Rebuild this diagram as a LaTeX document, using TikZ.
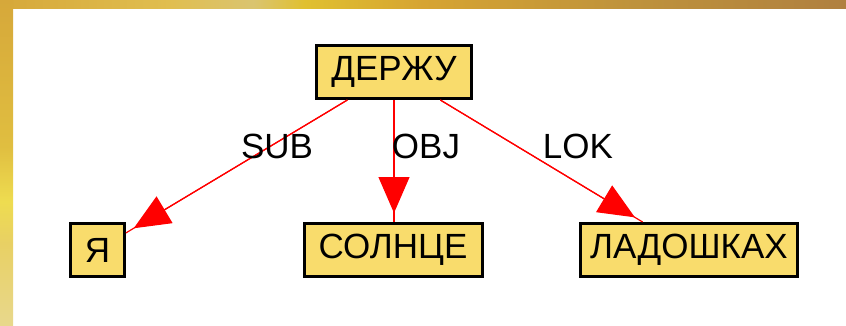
\documentclass[tikz,border=0pt]{standalone}
\usepackage{fontspec}
\setmainfont{Liberation Sans}
\usetikzlibrary{arrows.meta}
\definecolor{boxfill}{RGB}{249,220,108}
\definecolor{edgered}{RGB}{255,0,0}
\pgfdeclarehorizontalshading{topband}{100bp}{%
  color(0bp)=(rgb,255:red,214;green,168;blue,58);
  color(25bp)=(rgb,255:red,214;green,168;blue,58);
  color(35bp)=(rgb,255:red,224;green,190;blue,80);
  color(40bp)=(rgb,255:red,218;green,196;blue,112);
  color(43bp)=(rgb,255:red,224;green,192;blue,48);
  color(50bp)=(rgb,255:red,214;green,164;blue,50);
  color(62.5bp)=(rgb,255:red,190;green,146;blue,60);
  color(75bp)=(rgb,255:red,176;green,128;blue,64);
  color(100bp)=(rgb,255:red,176;green,128;blue,64)}
\pgfdeclareverticalshading{leftband}{100bp}{%
  color(0bp)=(rgb,255:red,232;green,216;blue,140);
  color(25bp)=(rgb,255:red,232;green,216;blue,140);
  color(37.5bp)=(rgb,255:red,232;green,208;blue,100);
  color(44bp)=(rgb,255:red,238;green,220;blue,80);
  color(52.5bp)=(rgb,255:red,224;green,190;blue,64);
  color(75bp)=(rgb,255:red,214;green,168;blue,58);
  color(100bp)=(rgb,255:red,214;green,168;blue,58)}
\tikzset{
  word/.style={draw=black, line width=3pt, fill=boxfill, minimum height=53pt,
    inner sep=0pt, font=\fontsize{35}{42}\selectfont},
  rel/.style={font=\fontsize{35}{42}\selectfont, inner sep=0pt},
  edge/.style={draw=edgered, line width=1.2pt},
  edgetip/.style={draw=edgered, fill=edgered, line width=1.2pt, shorten >=9pt,
    -{Triangle[length=36pt,width=31pt]}}
}
\begin{document}
\begin{tikzpicture}[x=1pt,y=-1pt]
\useasboundingbox (0,0) rectangle (846,325);
\fill[white] (0,0) rectangle (846,325);
\shade[shading=topband] (0,0) rectangle (846,8);
\shade[shading=leftband] (0,0) rectangle (13,325);

\node[word, minimum width=155pt] (derzhu) at (394,72) {ДЕРЖУ};
\node[word, minimum width=54pt] (ya) at (97.5,250) {Я};
\node[word, minimum width=178pt] (solnce) at (393,250) {СОЛНЦЕ};
\node[word, minimum width=217pt] (ladoshkah) at (689,250) {ЛАДОШКАХ};

\draw[edge] (derzhu) -- (ya);
\draw[edge] (derzhu.south) -- (derzhu.south |- solnce.north);
\draw[edge] (derzhu) -- (ladoshkah);
\draw[edgetip] (derzhu) -- (ya);
\draw[edgetip] (derzhu.south) -- (derzhu.south |- solnce.north);
\draw[edgetip] (derzhu) -- (ladoshkah);

\node[rel] (sub) at (277,146) {SUB};
\node[rel] (obj) at (426,146) {OBJ};
\node[rel] (lok) at (578,146) {LOK};
\end{tikzpicture}
\end{document}
